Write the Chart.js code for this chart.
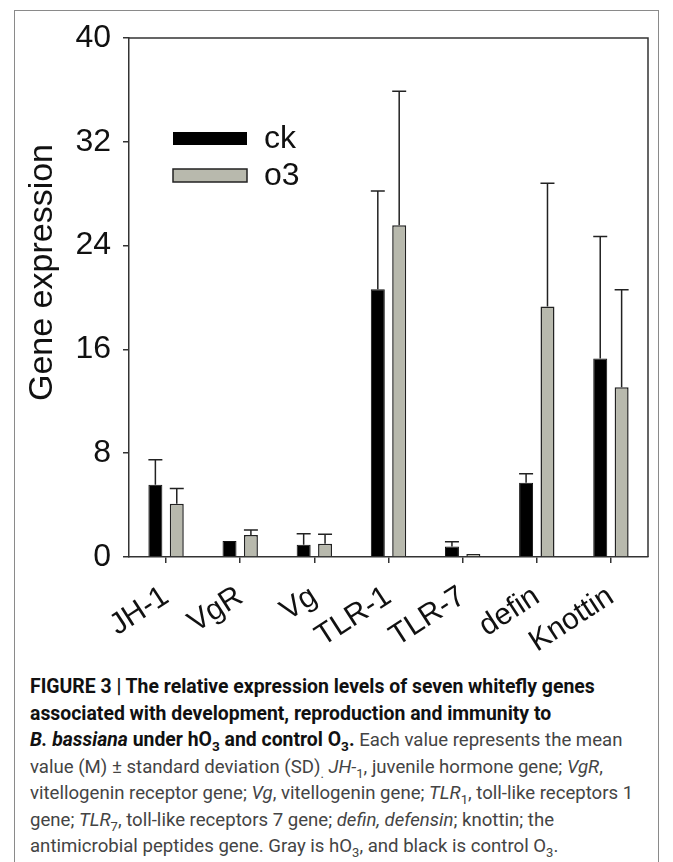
<!DOCTYPE html>
<html>
<head>
<meta charset="utf-8">
<script src="https://cdn.jsdelivr.net/npm/chart.js@4.4.0/dist/chart.umd.min.js"></script>
<style>
  body { margin: 0; background: #fff; width: 673px; height: 862px; overflow: hidden; position: relative; }
  #frame { position: absolute; left: 14px; top: 10px; width: 645px; height: 900px; border: 1px solid #8a8a8a; box-sizing: border-box; }
  #wrap { position: absolute; left: 0; top: 0; width: 673px; height: 670px; }
  #caption { position: absolute; left: 30px; top: 674px; font-family: Roboto, "Liberation Sans", sans-serif; font-size: 18.6px; line-height: 26.5px; color: #444; white-space: nowrap; }
  #caption b { color: #111; font-size: 19.4px; }
  #caption sub { font-size: 0.7em; line-height: 0; }
</style>
</head>
<body>
<div id="frame"></div>
<div id="wrap"><canvas id="myChart" width="673" height="670"></canvas></div>
<div id="caption">
  <b>FIGURE 3 | The relative expression levels of seven whitefly genes</b><br>
  <b>associated with development, reproduction and immunity to</b><br>
  <b><i>B. bassiana</i> under hO<sub>3</sub> and control O<sub>3</sub>.</b> Each value represents the mean<br>
  value (M) ± standard deviation (SD)<sub>.</sub> <i>JH-</i><sub>1</sub>, juvenile hormone gene; <i>VgR</i>,<br>
  vitellogenin receptor gene; <i>Vg</i>, vitellogenin gene; <i>TLR</i><sub>1</sub>, toll-like receptors 1<br>
  gene; <i>TLR</i><sub>7</sub>, toll-like receptors 7 gene; <i>defin, defensin</i>; knottin; the<br>
  antimicrobial peptides gene. Gray is hO<sub>3</sub>, and black is control O<sub>3</sub>.
</div>
<script>
const genes = ["JH-1", "VgR", "Vg", "TLR-1", "TLR-7", "defin", "Knottin"];
const ckValues = [5.57, 1.23, 0.95, 20.64, 0.8, 5.73, 15.3];
const ckErrors = [1.93, 0, 0.85, 7.56, 0.38, 0.69, 9.4];
const o3Values = [4.11, 1.7, 1.03, 25.57, 0.23, 19.3, 13.08];
const o3Errors = [1.16, 0.38, 0.72, 10.33, 0, 9.5, 7.52];
const yTicks = [0, 8, 16, 24, 32, 40];

const FONT = "'Liberation Sans', Arial, sans-serif";

// upper whiskers only, like the original plot
const errorBars = {
  id: "errorBars",
  afterDatasetsDraw(chart) {
    const ctx = chart.ctx;
    const y = chart.scales.y;
    ctx.save();
    ctx.strokeStyle = "#222";
    ctx.lineWidth = 1.5;
    chart.data.datasets.forEach((ds, i) => {
      chart.getDatasetMeta(i).data.forEach((bar, j) => {
        const err = ds.errors[j];
        if (!err) return;
        const top = y.getPixelForValue(ds.data[j] + err);
        const half = bar.width / 2;
        ctx.beginPath();
        ctx.moveTo(bar.x, bar.y);
        ctx.lineTo(bar.x, top);
        ctx.moveTo(bar.x - half, top);
        ctx.lineTo(bar.x + half, top);
        ctx.stroke();
      });
    });
    ctx.restore();
  },
};

// top/right frame of the plot, legend inside the plot, y title
const boxAndLegend = {
  id: "boxAndLegend",
  afterDraw(chart) {
    const { ctx, chartArea: a } = chart;
    ctx.save();
    ctx.strokeStyle = "#333";
    ctx.lineWidth = 1.5;
    ctx.beginPath();
    ctx.moveTo(a.left, a.top);
    ctx.lineTo(a.right, a.top);
    ctx.lineTo(a.right, a.bottom);
    ctx.stroke();

    const lx = a.left + 44;
    const rows = [a.top + 94, a.top + 131];
    ctx.font = "32px " + FONT;
    ctx.textBaseline = "middle";
    chart.data.datasets.forEach((ds, i) => {
      ctx.fillStyle = ds.backgroundColor;
      ctx.fillRect(lx, rows[i], 74, 13);
      if (i === 1) {
        ctx.lineWidth = 1.5;
        ctx.strokeStyle = "#222";
        ctx.strokeRect(lx, rows[i], 74, 13);
      }
      ctx.fillStyle = "#111";
      ctx.fillText(ds.label, lx + 91, rows[i] + 7);
    });

    // axis title sits a little above the middle of the axis in the original
    ctx.translate(43, (a.top + a.bottom) / 2 - 25);
    ctx.rotate(-Math.PI / 2);
    ctx.textAlign = "center";
    ctx.font = "34px " + FONT;
    ctx.fillText("Gene expression", 0, 0);
    ctx.restore();
  },
};

new Chart(document.getElementById("myChart"), {
  type: "bar",
  data: {
    labels: genes,
    datasets: [
      {
        label: "ck",
        data: ckValues,
        errors: ckErrors,
        backgroundColor: "#000000",
        borderColor: "#111",
        borderWidth: 1,
      },
      {
        label: "o3",
        data: o3Values,
        errors: o3Errors,
        backgroundColor: "#b8b9ad",
        borderColor: "#222",
        borderWidth: 1.5,
      },
    ],
  },
  options: {
    responsive: false,
    animation: false,
    categoryPercentage: 0.577,
    barPercentage: 0.654,
    layout: { padding: { top: 38, right: 25, left: 0, bottom: 0 } },
    plugins: { legend: { display: false }, tooltip: { enabled: false } },
    scales: {
      x: {
        grid: { drawOnChartArea: false, offset: false, tickLength: 6, color: "#333", lineWidth: 1.5 },
        border: { color: "#333", width: 1.5 },
        ticks: {
          autoSkip: false,
          minRotation: 33,
          maxRotation: 33,
          padding: 16,
          color: "#111",
          font: { family: FONT, size: 30 },
        },
        afterFit(scale) { scale.height = 113; },
      },
      y: {
        min: 0,
        max: 40,
        afterBuildTicks(scale) { scale.ticks = yTicks.map((v) => ({ value: v })); },
        grid: { drawOnChartArea: false, tickLength: 6, color: "#333", lineWidth: 1.5 },
        border: { color: "#333", width: 1.5 },
        ticks: { padding: 12, color: "#111", font: { family: FONT, size: 32 } },
        afterFit(scale) { scale.width = 129; },
      },
    },
  },
  plugins: [errorBars, boxAndLegend],
});
</script>
</body>
</html>
